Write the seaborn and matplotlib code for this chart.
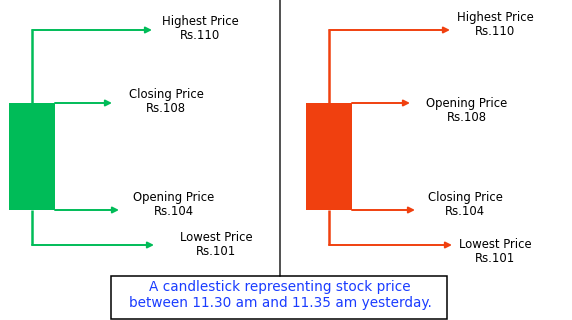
import numpy as np
import matplotlib
matplotlib.use("Agg")
import matplotlib.pyplot as plt
from matplotlib.patches import Rectangle
import seaborn as sns

# ---- data ----
candles = ["bullish", "bearish"]
open_prices = [104, 108]
close_prices = [108, 104]
high_prices = [110, 110]
low_prices = [101, 101]
body_colors = ["#00BC58", "#F0400F"]
caption = "A candlestick representing stock price\nbetween 11.30 am and 11.35 am yesterday."

# ---- layout (pixel-like x axis, piecewise y mapping of prices) ----
knot_price = np.array([94.0, 101.0, 104.0, 108.0, 110.0, 116.0])
knot_pix = np.array([326.7, 245.0, 210.0, 103.0, 30.0, -189.0])


def fwd(p):
    return -np.interp(p, knot_price, knot_pix)


def inv(v):
    return np.interp(-np.asarray(v), knot_pix[::-1], knot_price[::-1])


sns.set_style("white")
fig = plt.figure(figsize=(5.72, 3.2), dpi=100)
ax = fig.add_axes([0, 0, 1, 1])
ax.set_yscale("function", functions=(fwd, inv))
ax.set_xlim(0, 572)
ax.set_ylim(float(inv(-320)), float(inv(0)))
ax.axis("off")

centers = [32, 329]
body_w = 46
arrow_tips = {  # (high, upper, lower, low) tip x
    0: (152, 112, 119, 154),
    1: (450, 410, 415, 452),
}
text_off = {
    0: [(48, 2), (54, 1.5), (55, 6), (62, 0.5)],
    1: [(45, 5.5), (57, -7), (50, 6), (43, -6)],
}

for i in range(len(candles)):
    o, c, h, l = open_prices[i], close_prices[i], high_prices[i], low_prices[i]
    col = body_colors[i]
    top, bot = max(o, c), min(o, c)
    cx = centers[i]
    # body
    ax.bar([cx], [top - bot], bottom=[bot], width=body_w, color=col,
           edgecolor="none", zorder=3)
    # wick
    ax.vlines(cx, bot, l, color=col, lw=1.8, zorder=2)
    ax.vlines(cx, top, h, color=col, lw=1.8, zorder=2)
    top_name = "Closing Price" if c > o else "Opening Price"
    bot_name = "Opening Price" if c > o else "Closing Price"
    levels = [(h, cx, "Highest Price"),
              (top, cx + body_w / 2, top_name),
              (bot, cx + body_w / 2, bot_name),
              (l, cx, "Lowest Price")]
    for k, (price, x0, name) in enumerate(levels):
        tip = arrow_tips[i][k]
        ax.annotate("", xy=(tip, price), xytext=(x0, price),
                    arrowprops=dict(arrowstyle="-|>", color=col, lw=1.4,
                                    mutation_scale=9, shrinkA=0, shrinkB=0),
                    zorder=2)
        dx, dy = text_off[i][k]
        ax.annotate(f"{name}\nRs.{price}", xy=(tip, price),
                    xytext=(dx, dy), textcoords="offset pixels",
                    ha="center", va="center", fontsize=8.4,
                    linespacing=1.1, color="black")

# divider
ax.plot([280, 280], [float(inv(-276)), float(inv(0))], color="#333333", lw=1.2)
# caption box
fig.patches.append(Rectangle((111 / 572, 1 / 320), (447 - 111) / 572, (320 - 276 - 1) / 320,
                             transform=fig.transFigure, fill=False,
                             edgecolor="black", lw=1.1))
fig.text(280 / 572, 1 - 295 / 320, caption, ha="center", va="center",
         fontsize=9.8, color="#1A3CFF", linespacing=1.2)

fig.savefig("out.png", dpi=100)
